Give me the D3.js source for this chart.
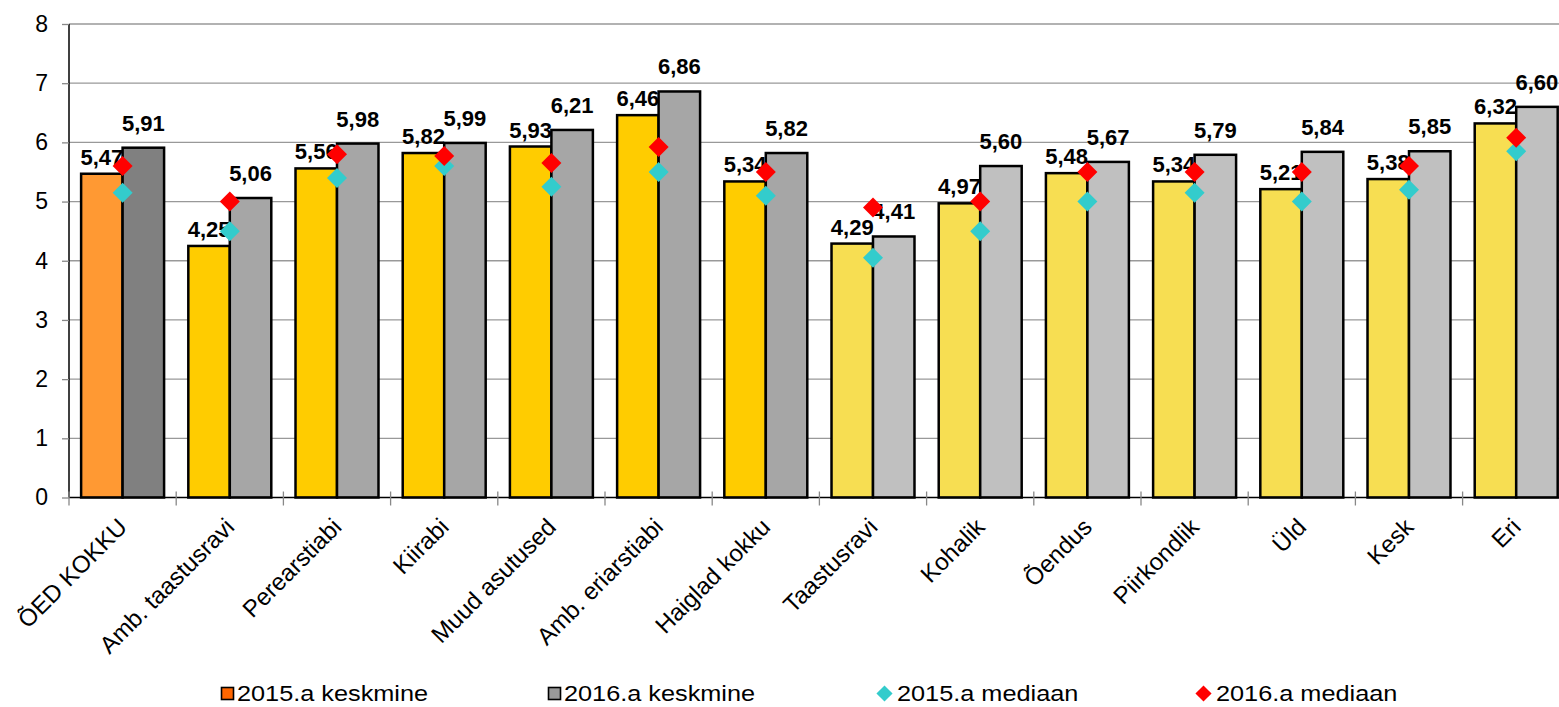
<!DOCTYPE html>
<html>
<head>
<meta charset="utf-8">
<script src="https://cdn.jsdelivr.net/npm/d3@7"></script>
<style>
html,body{margin:0;padding:0;background:#fff;}
svg{display:block;font-family:"Liberation Sans",Arial,sans-serif;}
</style>
</head>
<body>
<svg id="chart" width="1559" height="707"></svg>
<script>
const categories = ["ÕED KOKKU","Amb. taastusravi","Perearstiabi","Kiirabi","Muud asutused","Amb. eriarstiabi","Haiglad kokku","Taastusravi","Kohalik","Õendus","Piirkondlik","Üld","Kesk","Eri"];
const mean2015 = [5.47,4.25,5.56,5.82,5.93,6.46,5.34,4.29,4.97,5.48,5.34,5.21,5.38,6.32];
const mean2016 = [5.91,5.06,5.98,5.99,6.21,6.86,5.82,4.41,5.60,5.67,5.79,5.84,5.85,6.60];
const median2015 = [5.15,4.5,5.4,5.6,5.25,5.5,5.1,4.05,4.5,5.0,5.15,5.0,5.2,5.85];
const median2016 = [5.6,5.0,5.8,5.77,5.65,5.92,5.5,4.9,5.0,5.5,5.5,5.5,5.6,6.08];
const groupOf = [0,1,1,1,1,1,1,2,2,2,2,2,2,2];
const color2015 = ["#FF9933","#FFCC00","#F7DE52"];
const color2016 = ["#808080","#A6A6A6","#C0C0C0"];
const yTicks = [0,1,2,3,4,5,6,7,8];
const legendItems = [
  {label:"2015.a keskmine", type:"rect", color:"#FF6600", x:221},
  {label:"2016.a keskmine", type:"rect", color:"#999999", x:548},
  {label:"2015.a mediaan", type:"diamond", color:"#33CCCC", x:876},
  {label:"2016.a mediaan", type:"diamond", color:"#FF0000", x:1195}
];

const fmt = v => v.toFixed(2).replace(".", ",");
const svg = d3.select("#chart");
const pLeft = 69, pTop = 24, pBottom = 497.5, step = 107.2;
const y = d3.scaleLinear().domain([0,8]).range([pBottom, pTop]);
const x0 = d3.scaleBand().domain(categories).range([pLeft, pLeft + step*categories.length]).paddingInner(0.226).paddingOuter(0.113);
const x1 = d3.scaleBand().domain(["a","b"]).range([0, x0.bandwidth()]);

// gridlines
svg.append("g").selectAll("line").data(yTicks.filter(d=>d>0)).join("line")
  .attr("x1", pLeft).attr("x2", 1559).attr("y1", d=>y(d)).attr("y2", d=>y(d))
  .attr("stroke", "#999").attr("stroke-width", 1.3);

// y axis
const yAxis = d3.axisLeft(y).tickValues(yTicks).tickSize(7).tickPadding(14).tickFormat(d3.format("d"));
const gy = svg.append("g").attr("transform", `translate(${pLeft},0)`).call(yAxis);
gy.select(".domain").attr("stroke", "#000").attr("stroke-width", 1.5).attr("d", `M0,${pTop}V${pBottom}`);
gy.selectAll(".tick line").attr("stroke", "#888").attr("stroke-width", 1.3);
gy.selectAll(".tick text").attr("font-size", 23).attr("fill", "#000").attr("font-family", "Liberation Sans, Arial, sans-serif");

// bars
const groups = svg.append("g").selectAll("g").data(categories).join("g")
  .attr("transform", d => `translate(${x0(d)},0)`);
groups.append("rect")
  .attr("x", x1("a")).attr("width", x1.bandwidth())
  .attr("y", (d,i) => y(mean2015[i])).attr("height", (d,i) => y(0) - y(mean2015[i]))
  .attr("fill", (d,i) => color2015[groupOf[i]]).attr("stroke", "#000").attr("stroke-width", 2.5);
groups.append("rect")
  .attr("x", x1("b")).attr("width", x1.bandwidth())
  .attr("y", (d,i) => y(mean2016[i])).attr("height", (d,i) => y(0) - y(mean2016[i]))
  .attr("fill", (d,i) => color2016[groupOf[i]]).attr("stroke", "#000").attr("stroke-width", 2.5);

// x axis
svg.append("line").attr("x1", pLeft).attr("x2", 1559).attr("y1", pBottom).attr("y2", pBottom)
  .attr("stroke", "#000").attr("stroke-width", 1.5);
svg.append("g").selectAll("line").data(d3.range(categories.length + 1)).join("line")
  .attr("x1", i => pLeft + i*step).attr("x2", i => pLeft + i*step)
  .attr("y1", pBottom - 6).attr("y2", pBottom + 8).attr("stroke", "#888").attr("stroke-width", 1.3);

// category labels
svg.append("g").selectAll("text").data(categories).join("text")
  .attr("transform", d => `translate(${x0(d) + x0.bandwidth()/2 + 6},${pBottom + 31}) rotate(-45)`)
  .attr("text-anchor", "end").attr("font-size", 24).attr("fill", "#000").text(d => d);

// data labels
groups.append("text").attr("x", x1("a") + x1.bandwidth()/2).attr("y", (d,i) => y(mean2015[i]) - 9)
  .attr("text-anchor", "middle").attr("font-size", 22).attr("font-weight", "bold").text((d,i) => fmt(mean2015[i]));
groups.append("text").attr("x", x1("b") + x1.bandwidth()/2).attr("y", (d,i) => y(mean2016[i]) - 17)
  .attr("text-anchor", "middle").attr("font-size", 22).attr("font-weight", "bold").text((d,i) => fmt(mean2016[i]));

// medians
const diamond = d3.symbol().type(d3.symbolSquare).size(200);
groups.append("path").attr("d", diamond)
  .attr("transform", (d,i) => `translate(${x0.bandwidth()/2},${y(median2015[i])}) rotate(45)`).attr("fill", "#33CCCC");
groups.append("path").attr("d", diamond)
  .attr("transform", (d,i) => `translate(${x0.bandwidth()/2},${y(median2016[i])}) rotate(45)`).attr("fill", "#FF0000");

// legend
const ly = 693.5;
const lg = svg.append("g").selectAll("g").data(legendItems).join("g").attr("transform", d => `translate(${d.x},${ly})`);
lg.filter(d => d.type === "rect").append("rect").attr("x", 0.5).attr("y", -6).attr("width", 12).attr("height", 12)
  .attr("fill", d => d.color).attr("stroke", "#000").attr("stroke-width", 1.6);
lg.filter(d => d.type === "diamond").append("path").attr("d", d3.symbol().type(d3.symbolSquare).size(130))
  .attr("transform", "translate(8.5,0) rotate(45)").attr("fill", d => d.color);
lg.append("text").attr("transform", d => `translate(${d.type === "rect" ? 16 : 21},0) scale(1.15,1)`).attr("dy", "0.36em")
  .attr("font-size", 22).attr("fill", "#000").text(d => d.label);
</script>
</body>
</html>
